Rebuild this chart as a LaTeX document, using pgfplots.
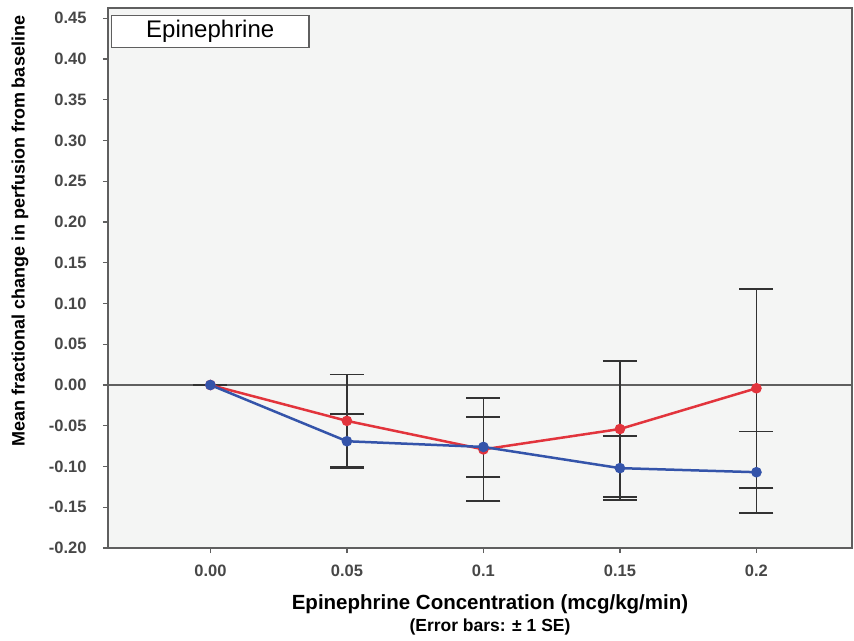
\documentclass[border=0pt]{standalone}
\usepackage{pgfplots}
\pgfplotsset{compat=1.18}
\usepackage{fontspec}
\setmainfont{Liberation Sans}
\definecolor{bgc}{RGB}{244,245,244}
\definecolor{redl}{RGB}{226,52,60}
\definecolor{bluel}{RGB}{52,84,170}
\definecolor{framec}{RGB}{95,95,95}
\definecolor{errc}{RGB}{50,50,50}
\begin{document}
\begin{tikzpicture}
\begin{axis}[
  scale only axis, width=744pt, height=540pt,
  xmin=-0.75, xmax=4.70, ymin=-0.20, ymax=0.4626,
  axis background/.style={fill=bgc},
  axis line style={framec, line width=1.5pt},
  xtick={0,1,2,3,4}, xticklabels={0.00,0.05,0.1,0.15,0.2},
  ytick={-0.20,-0.15,-0.10,-0.05,0,0.05,0.10,0.15,0.20,0.25,0.30,0.35,0.40,0.45},
  yticklabel style={xshift=-13pt, /pgf/number format/.cd, fixed, fixed zerofill, precision=2},
  /pgf/number format/assume math mode=true,
  tick align=outside, xtick pos=bottom, ytick pos=left,
  major tick length=5pt, tick style={framec, line width=1.3pt},
  ticklabel style={font=\bfseries\fontsize{16.5}{19}\selectfont, color=black!72},
  xticklabel style={yshift=-8pt},
  clip=false,
]
\draw[framec, line width=1.5pt] ({rel axis cs:0,0}|-{axis cs:0,0}) -- ({rel axis cs:1,0}|-{axis cs:0,0});
% error bars
\addplot[draw=none, mark=none, forget plot,
  error bars/.cd, y dir=both, y explicit,
  error bar style={errc, line width=1.8pt},
  error mark options={rotate=90, mark size=17pt, line width=1.8pt, errc}]
  coordinates {(0,0) +- (0,0) (1,-0.044) +- (0,0.057) (2,-0.079) +- (0,0.063) (3,-0.054) +- (0,0.083) (4,-0.004) +- (0,0.122)};
\addplot[draw=none, mark=none, forget plot,
  error bars/.cd, y dir=both, y explicit,
  error bar style={errc, line width=1.8pt},
  error mark options={rotate=90, mark size=17pt, line width=1.8pt, errc}]
  coordinates {(0,0) +- (0,0) (1,-0.069) +- (0,0.033) (2,-0.076) +- (0,0.037) (3,-0.102) +- (0,0.039) (4,-0.107) +- (0,0.050)};
% lines
\addplot[redl, line width=2.5pt, mark=*, mark size=4pt, mark options={fill=redl, draw=redl}]
  coordinates {(0,0) (1,-0.044) (2,-0.079) (3,-0.054) (4,-0.004)};
\addplot[bluel, line width=2.5pt, mark=*, mark size=4pt, mark options={fill=bluel, draw=bluel}]
  coordinates {(0,0) (1,-0.069) (2,-0.076) (3,-0.102) (4,-0.107)};
\node[draw=framec, line width=1.5pt, fill=white, anchor=north west, minimum width=197pt, minimum height=32pt, inner sep=0pt, font=\fontsize{24}{26}\selectfont] at ([xshift=3pt,yshift=-7pt]rel axis cs:0,1) {Epinephrine};
\end{axis}
\node[font=\bfseries\fontsize{20.5}{24}\selectfont] at ([xshift=382pt, yshift=-56pt]current axis.south west) {Epinephrine Concentration (mcg/kg/min)};
\node[font=\bfseries\fontsize{17.5}{20}\selectfont] at ([xshift=382pt, yshift=-79pt]current axis.south west) {(Error bars: ± 1 SE)};
\node[rotate=90, font=\bfseries\fontsize{18}{21}\selectfont] at ([xshift=-88pt, yshift=317pt]current axis.south west) {Mean fractional change in perfusion from baseline};
\path ([xshift=-108pt, yshift=-92pt]current axis.south west) rectangle ([xshift=2pt, yshift=8pt]current axis.north east);
\end{tikzpicture}
\end{document}
